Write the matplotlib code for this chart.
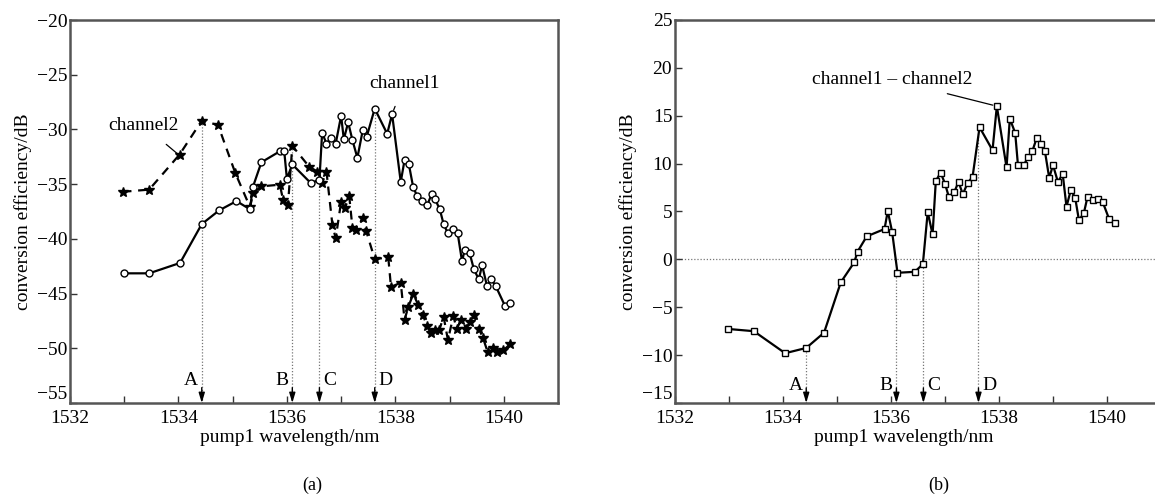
import numpy as np
import matplotlib
matplotlib.use("Agg")
import matplotlib.pyplot as plt

plt.rcParams['font.family'] = ['Liberation Serif', 'DejaVu Serif']
plt.rcParams['axes.unicode_minus'] = True

# ---- (a) channel1 (circles, solid) ----
ch1_x = [1533.0, 1533.46, 1534.03, 1534.43, 1534.75, 1535.07, 1535.32, 1535.37, 1535.53, 1535.87,
         1535.95, 1536.0, 1536.1, 1536.44, 1536.6, 1536.65, 1536.73, 1536.81, 1536.9, 1537.0,
         1537.05, 1537.13, 1537.21, 1537.3, 1537.4, 1537.47, 1537.62, 1537.85, 1537.94, 1538.1,
         1538.17, 1538.25, 1538.33, 1538.4, 1538.5, 1538.59, 1538.67, 1538.73, 1538.82, 1538.89,
         1538.97, 1539.07, 1539.15, 1539.23, 1539.28, 1539.37, 1539.45, 1539.54, 1539.6, 1539.69,
         1539.77, 1539.85, 1540.02, 1540.11]
ch1_y = [-43.15, -43.15, -42.2, -38.65, -37.4, -36.55, -37.3, -35.3, -33.0, -32.0,
         -31.95, -34.5, -33.2, -34.9, -34.6, -30.3, -31.3, -30.8, -31.3, -28.75,
         -30.9, -29.35, -31.0, -32.6, -30.05, -30.7, -28.1, -30.4, -28.6, -34.8,
         -32.8, -33.2, -35.3, -36.05, -36.5, -36.9, -35.9, -36.35, -37.3, -38.65,
         -39.5, -39.1, -39.5, -42.05, -41.0, -41.3, -42.8, -43.7, -42.4, -44.3,
         -43.7, -44.3, -46.1, -45.85]

# ---- (a) channel2 (stars, dashed) ----
ch2_x = [1532.97, 1533.46, 1534.02, 1534.43, 1534.73, 1535.05, 1535.32, 1535.38, 1535.53, 1535.87,
         1535.93, 1536.02, 1536.1, 1536.41, 1536.56, 1536.65, 1536.73, 1536.84, 1536.9, 1537.0,
         1537.07, 1537.15, 1537.21, 1537.28, 1537.4, 1537.46, 1537.62, 1537.87, 1537.92, 1538.1,
         1538.17, 1538.24, 1538.33, 1538.42, 1538.51, 1538.59, 1538.65, 1538.73, 1538.81, 1538.89,
         1538.97, 1539.07, 1539.13, 1539.22, 1539.31, 1539.37, 1539.45, 1539.54, 1539.62, 1539.7,
         1539.8, 1539.88, 1539.99, 1540.11]
ch2_y = [-35.7, -35.5, -32.3, -29.2, -29.6, -34.0, -37.1, -35.8, -35.2, -35.05,
         -36.45, -36.9, -31.5, -33.4, -33.85, -34.9, -33.85, -38.75, -39.95, -36.6,
         -37.2, -36.1, -39.05, -39.2, -38.05, -39.25, -41.85, -41.7, -44.4, -44.0,
         -47.4, -46.2, -45.05, -46.0, -47.0, -48.0, -48.6, -48.3, -48.35, -47.1,
         -49.25, -47.05, -48.2, -47.4, -48.2, -47.6, -47.0, -48.2, -49.1, -50.3,
         -50.0, -50.3, -50.2, -49.65]

# ---- (b) channel1 - channel2 (squares) ----
diff_x = [1532.99, 1533.46, 1534.04, 1534.43, 1534.76, 1535.07, 1535.32, 1535.38, 1535.55, 1535.88,
          1535.94, 1536.02, 1536.12, 1536.44, 1536.59, 1536.68, 1536.77, 1536.83, 1536.92, 1537.0,
          1537.07, 1537.17, 1537.25, 1537.33, 1537.42, 1537.51, 1537.64, 1537.88, 1537.96, 1538.14,
          1538.2, 1538.3, 1538.35, 1538.46, 1538.54, 1538.62, 1538.7, 1538.77, 1538.85, 1538.93,
          1539.0, 1539.09, 1539.18, 1539.25, 1539.33, 1539.41, 1539.48, 1539.57, 1539.64, 1539.74,
          1539.84, 1539.92, 1540.04, 1540.15]
diff_y = [-7.27, -7.5, -9.8, -9.25, -7.66, -2.4, -0.3, 0.8, 2.4, 3.17,
          5.05, 2.9, -1.4, -1.3, -0.5, 4.95, 2.6, 8.2, 9.05, 7.9,
          6.55, 7.0, 8.1, 6.8, 8.0, 8.6, 13.8, 11.4, 16.0, 9.6,
          14.7, 13.2, 9.9, 9.9, 10.65, 11.35, 12.7, 12.0, 11.3, 8.5,
          9.85, 8.1, 8.9, 5.5, 7.25, 6.45, 4.1, 4.8, 6.55, 6.2,
          6.3, 6.0, 4.2, 3.8]

# marked pump wavelengths A-D and where their dotted guides stop
mark_labels = ['A', 'B', 'C', 'D']
mark_x = [1534.43, 1536.1, 1536.6, 1537.62]
mark_top_a = [-29.2, -31.5, -33.85, -28.1]
mark_top_b = [-9.25, -1.4, -0.5, 13.8]
label_side = [-1, -1, 1, 1]

W, H = 1155, 498
fig = plt.figure(figsize=(W / 100, H / 100), dpi=100)
ax1 = fig.add_axes([70 / W, (H - 403) / H, 488 / W, 383 / H])
ax2 = fig.add_axes([675 / W, (H - 403) / H, 486 / W, 383 / H])

FS = 14
GRAY = '#555555'


def style(ax, ylim, yticks):
    ax.set_xlim(1532, 1541)
    ax.set_ylim(*ylim)
    ax.set_xticks([1532, 1534, 1536, 1538, 1540])
    ax.set_xticks([1533, 1535, 1537, 1539], minor=True)
    ax.set_yticks(yticks)
    ax.tick_params(direction='in', length=5, width=1, labelsize=FS, pad=2, color='#333333')
    ax.tick_params(axis='x', pad=5)
    ax.tick_params(which='minor', direction='in', length=5, width=1, color='#333333')
    for s in ax.spines.values():
        s.set_color(GRAY); s.set_linewidth(1.8)
    # lowest y label sits a touch above the corner, as in the original
    ax.get_yticklabels()[0].set_verticalalignment('bottom')


def marks(ax, tops, y0, alen, ly):
    for lab, x, top, side in zip(mark_labels, mark_x, tops, label_side):
        ax.plot([x, x], [y0, top], ls=(0, (1, 1.5)), color='#777777', lw=0.9, zorder=1)
        ax.annotate('', xy=(x, y0), xytext=(x, y0 + alen),
                    arrowprops=dict(arrowstyle='-|>,head_length=0.6,head_width=0.18',
                                    color='black', lw=1.0, shrinkA=0, shrinkB=0))
        ax.text(x + side * 0.07, ly, lab, fontsize=FS, ha='right' if side < 0 else 'left', va='center')


# (a)
style(ax1, (-55, -20), np.arange(-55, -19, 5))
marks(ax1, mark_top_a, -55, 1.4, -52.9)
ax1.plot(ch2_x, ch2_y, color='black', ls=(0, (4, 3)), lw=1.6, marker='*', ms=7,
         mfc='black', mec='black', zorder=3)
ax1.plot(ch1_x, ch1_y, color='black', lw=1.6, marker='o', ms=5, mfc='white',
         mec='black', mew=1.0, zorder=4)
ax1.annotate('channel2', xy=(1534.0, -32.3), xytext=(1533.35, -29.6), fontsize=FS,
             ha='center', va='center',
             arrowprops=dict(arrowstyle='-', color='black', lw=0.9, shrinkA=9, shrinkB=1))
ax1.annotate('channel1', xy=(1537.94, -28.6), xytext=(1538.16, -25.8), fontsize=FS,
             ha='center', va='center',
             arrowprops=dict(arrowstyle='-', color='black', lw=0.9, shrinkA=9, shrinkB=3))
ax1.set_ylabel('conversion efficiency/dB', fontsize=FS, labelpad=3)

# (b)
style(ax2, (-15, 25), np.arange(-15, 26, 5))
ax2.axhline(0, ls=(0, (1, 1.5)), color='#777777', lw=0.9, zorder=1)
marks(ax2, mark_top_b, -15, 1.57, -13.2)
ax2.plot(diff_x, diff_y, color='black', lw=1.6, marker='s', ms=5, mfc='white',
         mec='black', mew=1.0, zorder=4)
ax2.annotate('channel1 \u2013 channel2', xy=(1537.96, 16.0), xytext=(1536.02, 18.8), fontsize=FS,
             ha='center', va='center',
             arrowprops=dict(arrowstyle='-', color='black', lw=0.9, shrinkA=9, shrinkB=3,
                             relpos=(0.7, 0.0)))
ax2.set_ylabel('conversion efficiency/dB', fontsize=FS, labelpad=3)

fig.text(290 / W, 1 - 437 / H, 'pump1 wavelength/nm', fontsize=FS, ha='center', va='center')
fig.text(904 / W, 1 - 437 / H, 'pump1 wavelength/nm', fontsize=FS, ha='center', va='center')
fig.text(312 / W, 1 - 485 / H, '(a)', fontsize=FS - 1, ha='center', va='center')
fig.text(939 / W, 1 - 485 / H, '(b)', fontsize=FS - 1, ha='center', va='center')

fig.savefig('out.png', dpi=100)
